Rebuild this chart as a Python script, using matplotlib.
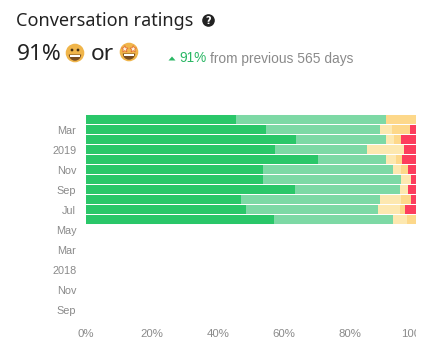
import numpy as np
import matplotlib
matplotlib.use("Agg")
import matplotlib.pyplot as plt
from matplotlib.patches import Circle, Wedge, Polygon, Rectangle
from matplotlib.transforms import Bbox

# one row per month, newest on top, empty months at the bottom
months = ["Apr", "Mar", "Feb", "2019", "Dec", "Nov", "Oct", "Sep", "Aug", "Jul", "Jun",
          "May", "Apr", "Mar", "Feb", "2018", "Dec", "Nov", "Oct", "Sep", "Aug"]
great = [45.5, 54.5, 63.6, 57.3, 70.3, 53.6, 53.6, 63.3, 47.0, 48.5, 57.0] + [0] * 10
good = [45.4, 34.6, 27.3, 27.9, 20.6, 39.4, 41.9, 31.9, 42.1, 40.0, 36.0] + [0] * 10
okay = [0.0, 3.6, 2.4, 11.2, 3.0, 2.5, 3.0, 2.4, 6.4, 6.7, 4.3] + [0] * 10
poor = [9.1, 5.5, 2.2, 0.0, 1.9, 2.1, 0.0, 0.0, 3.0, 1.5, 2.7] + [0] * 10
bad = [0.0, 1.8, 4.5, 3.6, 4.2, 2.4, 1.5, 2.4, 1.5, 3.3, 0.0] + [0] * 10
series = [great, good, okay, poor, bad]
colors = ["#2AC769", "#7DD9A5", "#FDE8B0", "#FDD88A", "#FD3D5D"]
x_ticks = [0, 20, 40, 60, 80, 100]

W, H = 437, 354
fig = plt.figure(figsize=(W / 100, H / 100), dpi=100, facecolor="white")
ax = fig.add_axes([86 / W, 1 - 325 / H, 330 / W, 210.5 / H])

# stacked bars
y = np.arange(len(months))
left = np.zeros(len(months))
for vals, c in zip(series, colors):
    vals = np.array(vals)
    ax.barh(y, vals, left=left, height=0.9, color=c, linewidth=0)
    left += vals

ax.set_xlim(0, 100)
ax.set_ylim(len(months) - 0.5, -0.5)
for s in ax.spines.values():
    s.set_visible(False)
ax.set_yticks(y[1::2])
ax.set_yticklabels(months[1::2], family="Liberation Sans", fontsize=7.8, color="#8a8a8a")
ax.set_xticks(x_ticks)
ax.set_xticklabels([f"{t}%" for t in x_ticks], family="Liberation Sans", fontsize=8.2, color="#8a8a8a")
ax.tick_params(length=0, axis="y", pad=7)
ax.tick_params(length=0, axis="x", pad=3)

# 100% label gets cut off at the edge of the plot in the original
clip = Bbox([[0, 0], [416, H]])
for label in ax.get_xticklabels():
    label.set_clip_on(True)
    label.set_clip_box(clip)

# header, drawn in pixel coords
top = fig.add_axes([0, 0, 1, 1], facecolor="none")
top.set_xlim(0, W)
top.set_ylim(H, 0)
top.axis("off")

top.text(16.5, 20.5, "Conversation ratings", family="Noto Sans", fontsize=13, color="#222222", va="center")
top.add_patch(Circle((208.5, 20.5), 6.3, color="#222222", lw=0))
top.text(208.5, 20.7, "?", family="DejaVu Sans", fontsize=7, fontweight="bold", color="white", ha="center", va="center")

top.text(16.5, 55, "91%", family="Noto Sans", fontsize=16.3, color="#222222", va="center")
top.text(91, 55, "or", family="Noto Sans", fontsize=16.3, color="#222222", va="center")


def emoji(cx, cy, stars=False):
    top.add_patch(Circle((cx, cy), 9.3, color="#F0B54A", lw=0))
    top.add_patch(Wedge((cx, cy + 1.5), 6.2, 0, 180, color="#7A4E20", lw=0))
    top.add_patch(Rectangle((cx - 5.2, cy + 1.5), 10.4, 2.2, color="#FFFFFF", lw=0))
    if stars:
        for dx in (-4.2, 4.2):
            px, py = cx + dx, cy - 3
            pts = [(px, py - 3.5), (px + 1.1, py - 1), (px + 3.3, py - 1), (px + 1.5, py + 0.7),
                   (px + 2.2, py + 3), (px, py + 1.6), (px - 2.2, py + 3), (px - 1.5, py + 0.7),
                   (px - 3.3, py - 1), (px - 1.1, py - 1)]
            top.add_patch(Polygon(pts, fc="#FFF6E0", ec="#E2672E", lw=0.5))
    else:
        for dx in (-3, 3):
            top.add_patch(Circle((cx + dx, cy - 3), 1.4, color="#4A3212", lw=0))


emoji(75, 53)
emoji(129, 52, stars=True)

top.add_patch(Polygon([(168.5, 60.5), (175.5, 60.5), (172, 56.5)], color="#2AB764", lw=0))
top.text(179, 58.5, "91%", family="Liberation Sans", fontsize=9.8, color="#2AB764", va="center")
top.text(209.5, 58.5, "from previous 565 days", family="Liberation Sans", fontsize=9.9, color="#8a8a8a", va="center")

fig.savefig("out.png", dpi=100)
